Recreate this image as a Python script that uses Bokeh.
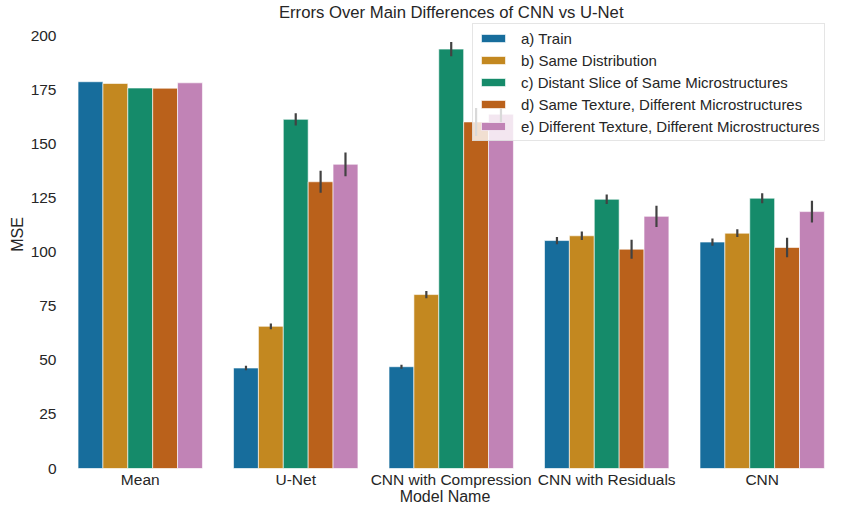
from bokeh.plotting import figure
from bokeh.models import ColumnDataSource, Range1d, FixedTicker, Label, Legend, LegendItem
from bokeh.embed import file_html
from bokeh.resources import INLINE

models = ["Mean", "U-Net", "CNN with Compression", "CNN with Residuals", "CNN"]
series_names = ["a) Train", "b) Same Distribution", "c) Distant Slice of Same Microstructures",
                "d) Same Texture, Different Microstructures", "e) Different Texture, Different Microstructures"]
train = [179.0, 46.5, 47.1, 105.5, 104.8]
same_dist = [178.2, 65.8, 80.5, 107.7, 108.9]
distant = [176.1, 161.6, 194.1, 124.6, 125.1]
same_tex = [176.0, 132.7, 160.4, 101.5, 102.3]
diff_tex = [178.5, 140.8, 164.0, 116.7, 118.9]
train_err = [0, 1.0, 0.9, 1.7, 1.7]
same_dist_err = [0, 1.3, 1.7, 2.0, 1.8]
distant_err = [0, 2.8, 3.3, 2.2, 2.3]
same_tex_err = [0, 5.1, 6.5, 4.4, 4.5]
diff_tex_err = [0, 5.5, 5.2, 4.9, 5.0]
colors = ["#176d9c", "#c38820", "#158b6a", "#ba611b", "#c183b6"]
y_ticks = [0, 25, 50, 75, 100, 125, 150, 175, 200]

values = [train, same_dist, distant, same_tex, diff_tex]
errors = [train_err, same_dist_err, distant_err, same_tex_err, diff_tex_err]

FONT = "Liberation Sans"
TXT = "#262626"

p = figure(width=827, height=507, output_backend="svg", toolbar_location=None,
           x_range=Range1d(-0.5, 4.42), y_range=Range1d(0, 216.6),
           min_border_left=62, min_border_right=0, min_border_top=0, min_border_bottom=38)
p.outline_line_color = None
p.xgrid.grid_line_color = None
p.ygrid.grid_line_color = None

bw = 0.16
items = []
for i, (vals, errs, name, col) in enumerate(zip(values, errors, series_names, colors)):
    xs = [k - 0.4 + bw * (i + 0.5) for k in range(len(models))]
    src = ColumnDataSource(dict(x=xs, top=vals))
    r = p.vbar(x="x", top="top", width=bw, source=src, fill_color=col,
               line_color="white", line_alpha=0.6, line_width=1)
    items.append(LegendItem(label=name, renderers=[r]))
    ex = [x for x, e in zip(xs, errs) if e > 0]
    elo = [v - e for v, e in zip(vals, errs) if e > 0]
    ehi = [v + e for v, e in zip(vals, errs) if e > 0]
    p.segment(x0=ex, y0=elo, x1=ex, y1=ehi, line_color="#424242", line_width=2.2)

p.xaxis.ticker = FixedTicker(ticks=list(range(len(models))))
p.xaxis.major_label_overrides = {k: m for k, m in enumerate(models)}
p.yaxis.ticker = FixedTicker(ticks=y_ticks)
for ax in (p.xaxis[0], p.yaxis[0]):
    ax.axis_line_color = None
    ax.major_tick_line_color = None
    ax.minor_tick_line_color = None
    ax.major_tick_out = 0
    ax.major_tick_in = 0
    ax.minor_tick_out = 0
    ax.minor_tick_in = 0
    ax.major_label_text_font = FONT
    ax.major_label_text_font_size = "15.5px"
    ax.major_label_text_color = TXT
    ax.axis_label_text_font = FONT
    ax.axis_label_text_font_size = "16px"
    ax.axis_label_text_font_style = "normal"
    ax.axis_label_text_color = TXT
p.xaxis.axis_label = "Model Name"
p.yaxis.axis_label = "MSE"
p.xaxis.major_label_standoff = 2
p.xaxis.axis_label_standoff = -3
p.yaxis.major_label_standoff = 6
p.yaxis.axis_label_standoff = 2

legend = Legend(items=items, location=(410, 327))
legend.label_text_font = FONT
legend.label_text_font_size = "15px"
legend.label_text_color = TXT
legend.glyph_width = 30
legend.glyph_height = 10
legend.label_height = 18
legend.spacing = 4
legend.padding = 5
legend.label_standoff = 13
legend.margin = 0
legend.background_fill_color = "white"
legend.background_fill_alpha = 0.8
legend.border_line_color = "#cccccc"
legend.border_line_width = 1
p.add_layout(legend)

title = Label(x=2.0, y=211.1, x_units="data", y_units="data",
              text="Errors Over Main Differences of CNN vs U-Net",
              text_font=FONT, text_font_size="16.7px", text_color=TXT,
              text_align="center", text_baseline="middle")
p.add_layout(title)

open("out.html", "w").write(file_html(p, INLINE))
